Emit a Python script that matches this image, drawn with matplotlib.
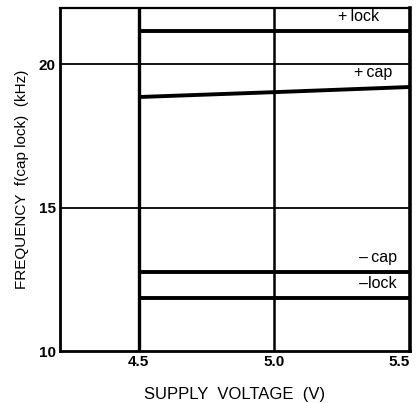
import numpy as np
import matplotlib.pyplot as plt

plt.rcParams['font.family'] = ['Liberation Sans', 'DejaVu Sans']

# supply voltage points (V)
voltage = [4.5, 5.0, 5.5]

# frequency curves (kHz)
plus_lock = [21.15, 21.15, 21.15]
plus_cap = [18.85, 19.02, 19.2]
minus_cap = [12.75, 12.75, 12.75]
minus_lock = [11.85, 11.85, 11.85]

curves = [plus_lock, plus_cap, minus_cap, minus_lock]
labels = ['+\u2009lock', '+\u2009cap', '\u2013\u2009cap', '\u2013lock']
label_x = [5.385, 5.435, 5.45, 5.45]

xticks = [4.5, 5.0, 5.5]
xticklabels = ['4.5', '5.0', '5.5']
yticks = [10, 15, 20]

fig = plt.figure(figsize=(4.16, 4.03), dpi=100)
ax = fig.add_axes([0.144, 0.129, 0.842, 0.851])

ax.set_xlim(4.21, 5.5)
ax.set_ylim(10, 21.95)

# grid lines
ax.axvline(4.5, color='black', lw=2.4, zorder=1)
ax.axvline(5.0, color='black', lw=1.8, zorder=1)
for y in [15, 20]:
    ax.axhline(y, color='black', lw=1.3, zorder=1)

for vals, lab, lx in zip(curves, labels, label_x):
    ax.plot(voltage, vals, color='black', lw=2.8, solid_capstyle='butt', zorder=3)
    ax.text(lx, vals[-1] + 0.25, lab, ha='right', va='bottom', fontsize=11.5)

ax.set_xticks(xticks)
ax.set_xticklabels(xticklabels, fontweight='bold', fontsize=11)
ax.get_xticklabels()[-1].set_ha('right')
ax.set_yticks(yticks)
ax.set_yticklabels([str(t) for t in yticks], fontweight='bold', fontsize=11)
ax.tick_params(length=0, pad=3)

ax.spines['left'].set_linewidth(2.0)
ax.spines['bottom'].set_linewidth(2.0)
ax.spines['top'].set_linewidth(1.6)
ax.spines['right'].set_linewidth(2.6)

ax.set_xlabel('SUPPLY  VOLTAGE  (V)', fontsize=12, labelpad=13)
ax.set_ylabel('FREQUENCY  f(cap lock)  (kHz)', fontsize=11, labelpad=7)

fig.savefig('out.png', dpi=100)
